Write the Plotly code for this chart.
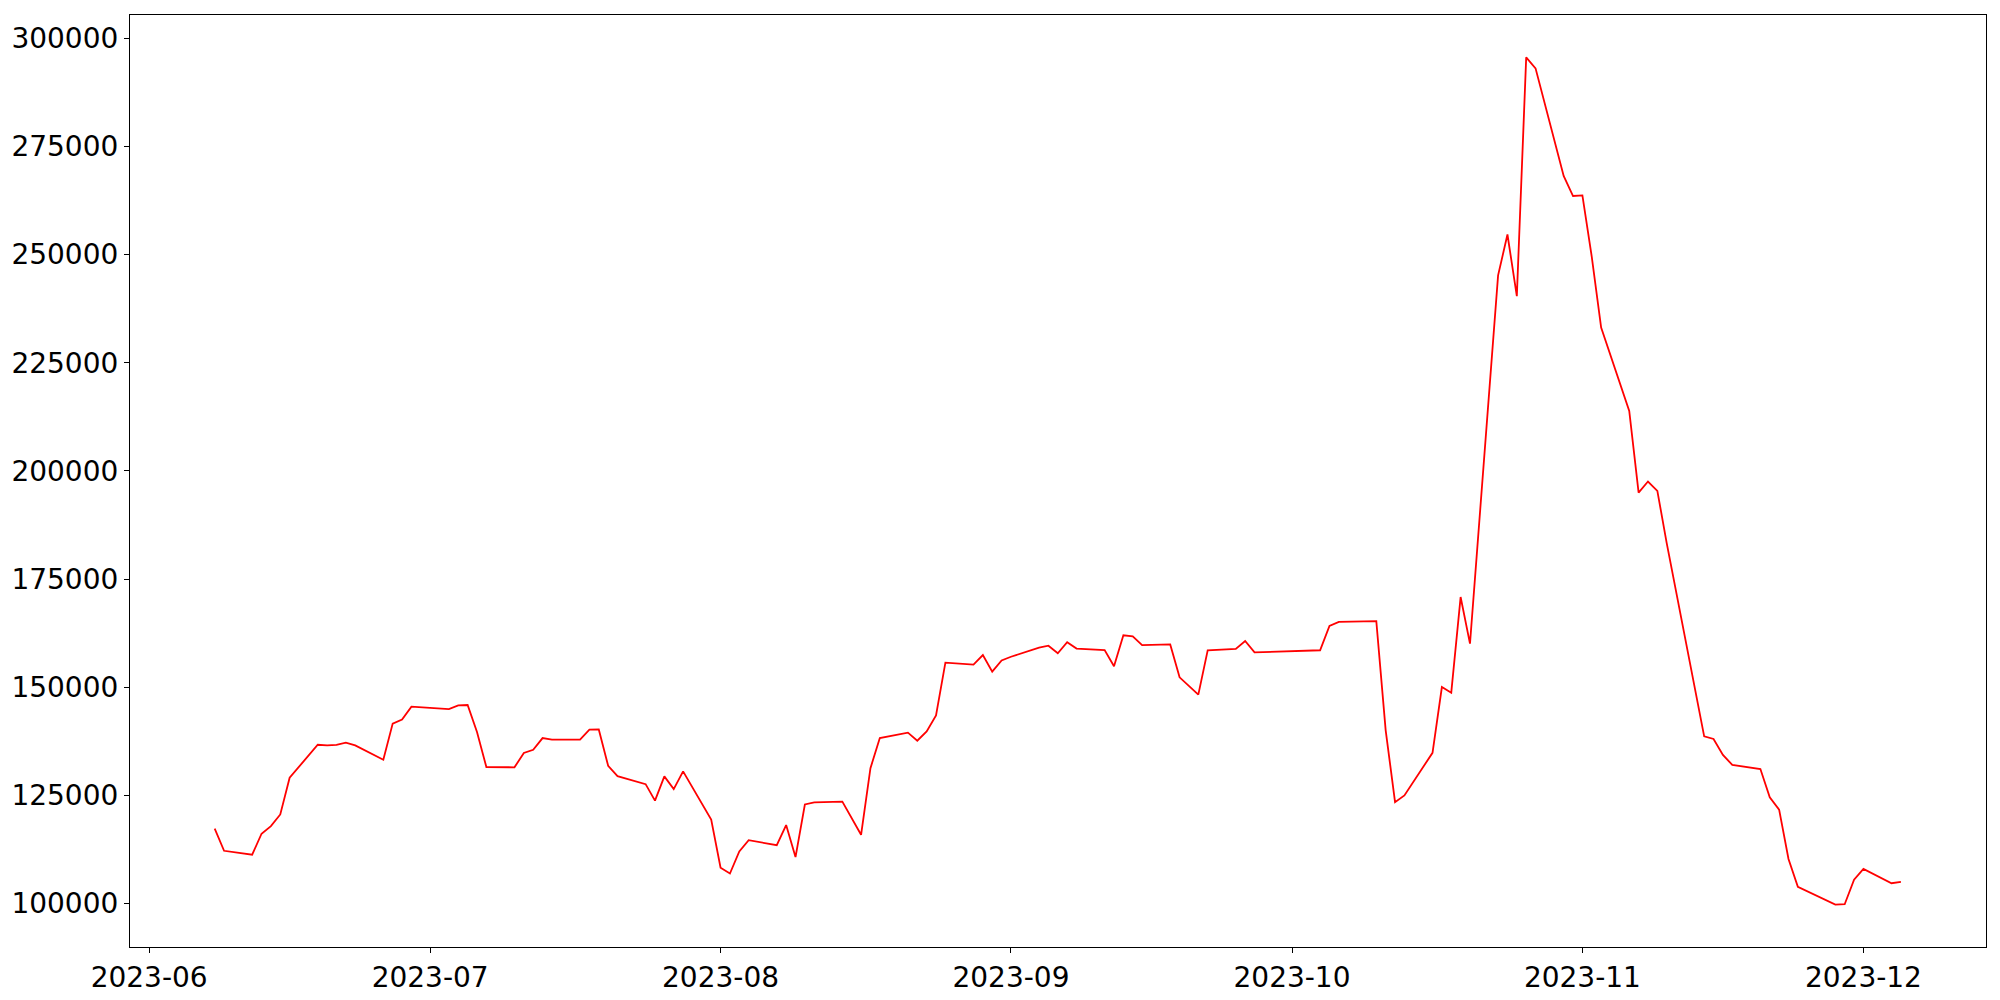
import plotly.graph_objects as go

# trading days (holidays / flat stretches are simply skipped)
dates = [
    '2023-06-08', '2023-06-09', '2023-06-12', '2023-06-13', '2023-06-14', '2023-06-15', '2023-06-16',
    '2023-06-19', '2023-06-20', '2023-06-21', '2023-06-22', '2023-06-23', '2023-06-26', '2023-06-27',
    '2023-06-28', '2023-06-29', '2023-07-03', '2023-07-04', '2023-07-05', '2023-07-06', '2023-07-07',
    '2023-07-10', '2023-07-11', '2023-07-12', '2023-07-13', '2023-07-14', '2023-07-17', '2023-07-18',
    '2023-07-19', '2023-07-20', '2023-07-21', '2023-07-24', '2023-07-25', '2023-07-26', '2023-07-27',
    '2023-07-28', '2023-07-31', '2023-08-01', '2023-08-02', '2023-08-03', '2023-08-04', '2023-08-07',
    '2023-08-08', '2023-08-09', '2023-08-10', '2023-08-11', '2023-08-14', '2023-08-16', '2023-08-17',
    '2023-08-18', '2023-08-21', '2023-08-22', '2023-08-23', '2023-08-24', '2023-08-25', '2023-08-28',
    '2023-08-29', '2023-08-30', '2023-08-31', '2023-09-01', '2023-09-04', '2023-09-05', '2023-09-06',
    '2023-09-07', '2023-09-08', '2023-09-11', '2023-09-12', '2023-09-13', '2023-09-14', '2023-09-15',
    '2023-09-18', '2023-09-19', '2023-09-21', '2023-09-22', '2023-09-25', '2023-09-26', '2023-09-27',
    '2023-10-04', '2023-10-05', '2023-10-06', '2023-10-10', '2023-10-11', '2023-10-12', '2023-10-13',
    '2023-10-16', '2023-10-17', '2023-10-18', '2023-10-19', '2023-10-20', '2023-10-23', '2023-10-24',
    '2023-10-25', '2023-10-26', '2023-10-27', '2023-10-30', '2023-10-31', '2023-11-01', '2023-11-02',
    '2023-11-03', '2023-11-06', '2023-11-07', '2023-11-08', '2023-11-09', '2023-11-10', '2023-11-14',
    '2023-11-15', '2023-11-16', '2023-11-17', '2023-11-20', '2023-11-21', '2023-11-22', '2023-11-23',
    '2023-11-24', '2023-11-28', '2023-11-29', '2023-11-30', '2023-12-01', '2023-12-04', '2023-12-05',
]

prices = [
    117300, 112200, 111300, 116150, 117900, 120600, 129100,
    136700, 136550, 136700, 137200, 136550, 133250, 141600,
    142550, 145500, 144950, 145800, 145900, 139650, 131550,
    131500, 134800, 135550, 138250, 137900, 137900, 140200,
    140250, 131850, 129450, 127600, 123800, 129400, 126450,
    130550, 119400, 108300, 106950, 112050, 114650, 113500,
    118150, 110750, 122900, 123400, 123550, 115900, 131300,
    138250, 139500, 137650, 139800, 143500, 155700, 155250,
    157450, 153600, 156200, 157050, 159150, 159600, 157850,
    160400, 158950, 158600, 154850, 162000, 161750, 159750,
    159900, 152300, 148300, 158550, 158850, 160700, 158050,
    158550, 164150, 165100, 165300, 140050, 123450, 125000,
    134850, 150050, 148750, 170850, 160100, 245200, 254650,
    240400, 295600, 293050, 268200, 263550, 263700, 249500,
    233150, 213850, 195000, 197550, 195400, 183300, 138650,
    138050, 134350, 132050, 131100, 124550, 121700, 110300,
    103850, 99750, 99850, 105500, 108000, 104700, 105000,
]

y_ticks = [100000, 125000, 150000, 175000, 200000, 225000, 250000, 275000, 300000]

FONT = 'DejaVu Sans'

fig = go.Figure()
fig.add_trace(go.Scatter(
    x=dates,
    y=prices,
    mode='lines',
    line=dict(color='red', width=1.8),
    showlegend=False,
))

axis_style = dict(
    showline=True, mirror=True, linecolor='black', linewidth=1.2,
    ticks='outside', ticklen=5, tickwidth=1.2, tickcolor='black',
    showgrid=False, zeroline=False, automargin=False,
    tickfont=dict(family=FONT, size=28, color='black'),
)

fig.update_xaxes(
    type='date',
    range=['2023-05-29 23:00', '2023-12-14 02:00'],
    tick0='2023-06-01', dtick='M1', tickformat='%Y-%m',
    **axis_style,
)
fig.update_yaxes(
    range=[89960, 305390],
    tickvals=y_ticks, tickformat='d',
    **axis_style,
)

# the page body adds 8px around the figure, so margins are shifted by that
fig.update_layout(
    width=2000, height=1000,
    margin=dict(l=122, r=22, t=7, b=61),
    paper_bgcolor='white', plot_bgcolor='white',
    font=dict(family=FONT, color='black'),
)

fig.write_html("out.html")
